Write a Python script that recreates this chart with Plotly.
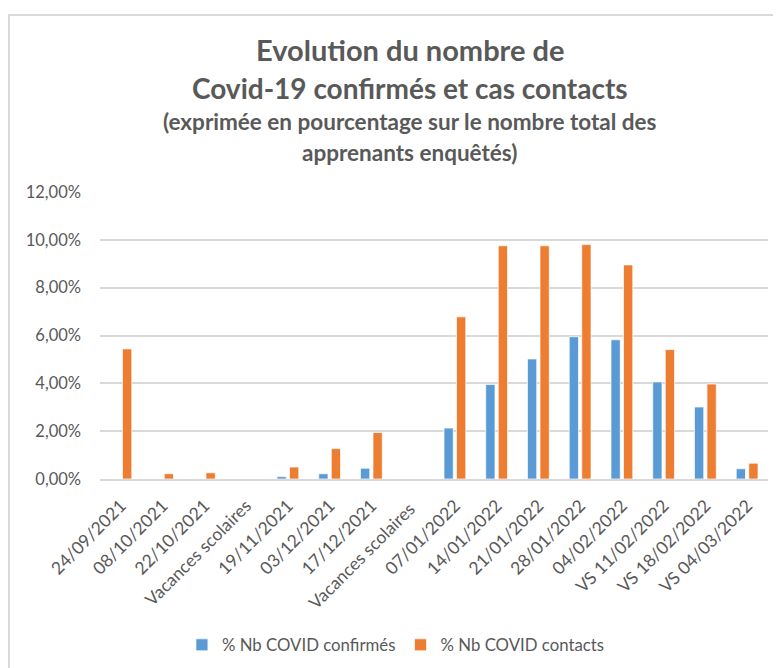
import plotly.graph_objects as go

categories = ["24/09/2021", "08/10/2021", "22/10/2021", "Vacances scolaires",
              "19/11/2021", "03/12/2021", "17/12/2021", "Vacances scolaires ",
              "07/01/2022", "14/01/2022", "21/01/2022", "28/01/2022",
              "04/02/2022", "VS 11/02/2022", "VS 18/02/2022", "VS 04/03/2022"]
confirmes = [0, 0, 0, 0, 0.10, 0.22, 0.45, 0, 2.13, 3.95, 5.02, 5.95, 5.82, 4.06, 3.01, 0.43]
contacts = [5.44, 0.22, 0.26, 0, 0.50, 1.27, 1.94, 0, 6.78, 9.75, 9.75, 9.80, 8.95, 5.41, 3.97, 0.66]

FONT = "Lato"
GRAY = "#595959"

fig = go.Figure()
fig.add_trace(go.Bar(x=categories, y=confirmes, name="% Nb COVID confirmés",
                     marker=dict(color="#5B9BD5", line=dict(color="white", width=0.7))))
fig.add_trace(go.Bar(x=categories, y=contacts, name="% Nb COVID contacts",
                     marker=dict(color="#ED7D31", line=dict(color="white", width=0.7))))

fig.update_layout(
    width=773, height=660,
    margin=dict(l=92, r=13, t=184, b=189, autoexpand=False),
    paper_bgcolor="white", plot_bgcolor="white",
    separators=", ",
    barmode="group", bargap=0.40, bargroupgap=0.26,
    font=dict(family=FONT, color=GRAY, size=16),
    showlegend=True,
    legend=dict(orientation="h", x=0.443, xanchor="center", y=-0.578, yanchor="middle",
                font=dict(size=16.8, color=GRAY), itemwidth=30, traceorder="normal"),
)
fig.update_xaxes(tickangle=-45, showline=True, linecolor="#D9D9D9", linewidth=1.5,
                 showgrid=False, tickfont=dict(size=17.5, color=GRAY), ticks="",
                 type="category", automargin=False, ticklabelstandoff=8)
fig.update_yaxes(range=[0, 12], dtick=2, tickformat=".2f", ticksuffix="%",
                 showgrid=True, gridcolor="#D9D9D9", gridwidth=1.5, zeroline=False,
                 tickfont=dict(size=16.5, color=GRAY), ticks="", ticklabelstandoff=18,
                 automargin=False)

title_lines = [
    ("Evolution du nombre de", 29, 1.495),
    ("Covid-19 confirmés et cas contacts", 28, 1.362),
    ("(exprimée en pourcentage sur le nombre total des", 22.5, 1.244),
    ("apprenants enquêtés)", 22.5, 1.139),
]
for txt, sz, yy in title_lines:
    fig.add_annotation(text="<b>%s</b>" % txt, x=0.464, y=yy, xref="paper", yref="paper",
                       xanchor="center", yanchor="middle", showarrow=False,
                       font=dict(family=FONT, size=sz, color=GRAY))

fig.add_shape(type="rect", xref="paper", yref="paper", x0=-0.1362, x1=1.2, y0=1.617, y1=-0.8,
              line=dict(color="#D9D9D9", width=2), fillcolor="rgba(0,0,0,0)", layer="below")

fig.write_html("out.html")
